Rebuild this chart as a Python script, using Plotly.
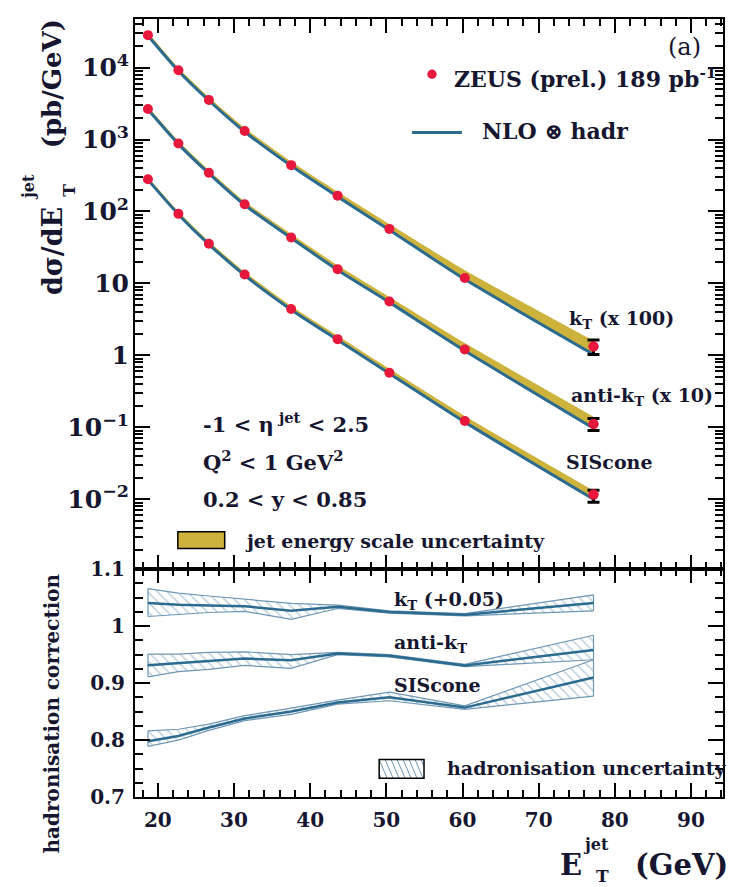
import plotly.graph_objects as go

# ---------------- data ----------------
ET = [18.7, 22.7, 26.7, 31.4, 37.5, 43.6, 50.4, 60.3, 77.2]

# cross sections (pb/GeV), kT scaled x100, anti-kT x10
KT_DATA = [28300, 9180, 3560, 1312, 441, 166, 57.3, 11.9, 1.33]
AKT_DATA = [2660, 881, 345, 126, 43.5, 15.8, 5.6, 1.21, 0.111]
SIS_DATA = [280, 92.7, 35.6, 13.3, 4.4, 1.68, 0.573, 0.122, 0.0116]

# errors on last point (up, down)
KT_ERR_LAST = (0.31, 0.30)
AKT_ERR_LAST = (0.022, 0.021)
SIS_ERR_LAST = (0.0017, 0.0025)

# NLO x hadr predictions
KT_NLO = [27800, 9000, 3490, 1285, 431, 161, 55.3, 11.4, 1.03]
AKT_NLO = [2610, 865, 338, 123, 42.7, 15.4, 5.45, 1.16, 0.097]
SIS_NLO = [275, 91.0, 35.0, 13.0, 4.32, 1.64, 0.56, 0.118, 0.0100]

# jet energy scale uncertainty (relative upper extent of band)
KT_JES = [0.11, 0.11, 0.12, 0.13, 0.15, 0.17, 0.21, 0.34, 0.55]
AKT_JES = [0.10, 0.10, 0.11, 0.12, 0.14, 0.16, 0.19, 0.28, 0.45]
SIS_JES = [0.10, 0.10, 0.10, 0.11, 0.12, 0.14, 0.16, 0.22, 0.32]

# hadronisation corrections
KT_HAD = [1.0405, 1.0376, 1.0365, 1.035, 1.027, 1.034, 1.025, 1.020, 1.0405]
KT_HAD_LO = [1.017, 1.020, 1.024, 1.026, 1.012, 1.031, 1.023, 1.018, 1.027]
KT_HAD_HI = [1.066, 1.058, 1.053, 1.047, 1.040, 1.037, 1.027, 1.022, 1.055]
AKT_HAD = [0.9315, 0.935, 0.939, 0.943, 0.940, 0.952, 0.948, 0.931, 0.958]
AKT_HAD_LO = [0.911, 0.920, 0.924, 0.931, 0.926, 0.950, 0.946, 0.929, 0.941]
AKT_HAD_HI = [0.951, 0.951, 0.954, 0.955, 0.950, 0.954, 0.950, 0.933, 0.984]
SIS_HAD = [0.798, 0.807, 0.822, 0.838, 0.850, 0.866, 0.875, 0.857, 0.910]
SIS_HAD_LO = [0.789, 0.800, 0.817, 0.834, 0.845, 0.863, 0.869, 0.854, 0.877]
SIS_HAD_HI = [0.816, 0.819, 0.828, 0.843, 0.856, 0.870, 0.884, 0.860, 0.941]

# ---------------- style ----------------
W, H = 732, 887
L, R, T, B = 135, 7, 8, 90
PW, PH = W - L - R, H - T - B
SPLIT = 566  # pixel y of boundary between panels
LOW_FRAC = (H - B - SPLIT) / PH

FONT = "DejaVu Serif"
TXT = "#161630"
RED = "#e8173c"
BLUE = "#2b6b8f"
YEL = "#cdb23c"
HATCH = "#6f97b4"


def P(x, y):
    return (x - L) / PW, (H - B - y) / PH


fig = go.Figure()

# ---- top panel ----
for nlo, jes, dat, err in [
    (KT_NLO, KT_JES, KT_DATA, KT_ERR_LAST),
    (AKT_NLO, AKT_JES, AKT_DATA, AKT_ERR_LAST),
    (SIS_NLO, SIS_JES, SIS_DATA, SIS_ERR_LAST),
]:
    up = [v * (1 + f) for v, f in zip(nlo, jes)]
    fig.add_trace(go.Scatter(x=ET, y=nlo, mode="lines", line=dict(width=0, shape="spline", smoothing=0.6),
                             showlegend=False, hoverinfo="skip", xaxis="x", yaxis="y"))
    fig.add_trace(go.Scatter(x=ET, y=up, mode="lines", line=dict(width=0, shape="spline", smoothing=0.6),
                             fill="tonexty", fillcolor=YEL, showlegend=False, hoverinfo="skip",
                             xaxis="x", yaxis="y"))
    fig.add_trace(go.Scatter(x=ET, y=nlo, mode="lines", line=dict(color=BLUE, width=3, shape="spline", smoothing=0.6),
                             showlegend=False, xaxis="x", yaxis="y"))
    fig.add_trace(go.Scatter(x=ET[-1:], y=dat[-1:], mode="markers",
                             marker=dict(color=RED, size=10),
                             error_y=dict(type="data", array=[err[0]], arrayminus=[err[1]],
                                          color="black", thickness=3, width=6),
                             showlegend=False, xaxis="x", yaxis="y"))
    fig.add_trace(go.Scatter(x=ET, y=dat, mode="markers", marker=dict(color=RED, size=10),
                             showlegend=False, xaxis="x", yaxis="y"))

# ---- bottom panel ----
for c, lo, hi in [(KT_HAD, KT_HAD_LO, KT_HAD_HI), (AKT_HAD, AKT_HAD_LO, AKT_HAD_HI),
                  (SIS_HAD, SIS_HAD_LO, SIS_HAD_HI)]:
    fig.add_trace(go.Scatter(x=ET, y=lo, mode="lines", line=dict(color=HATCH, width=1.2),
                             showlegend=False, hoverinfo="skip", xaxis="x2", yaxis="y2"))
    fig.add_trace(go.Scatter(x=ET, y=hi, mode="lines", line=dict(color=HATCH, width=1.2),
                             fill="tonexty", fillcolor="rgba(0,0,0,0)",
                             fillpattern=dict(shape="\\", fgcolor=HATCH, size=7, solidity=0.2),
                             showlegend=False, hoverinfo="skip", xaxis="x2", yaxis="y2"))
    # close band ends
    fig.add_trace(go.Scatter(x=[ET[0], ET[0], None, ET[-1], ET[-1]],
                             y=[lo[0], hi[0], None, lo[-1], hi[-1]], mode="lines",
                             line=dict(color=HATCH, width=1.2), showlegend=False, hoverinfo="skip",
                             xaxis="x2", yaxis="y2"))
    fig.add_trace(go.Scatter(x=ET, y=c, mode="lines", line=dict(color=BLUE, width=2.5),
                             showlegend=False, xaxis="x2", yaxis="y2"))

axis_common = dict(showline=True, linecolor="black", linewidth=2, mirror="ticks",
                   ticks="inside", tickcolor="black", tickwidth=1.5, showgrid=False, zeroline=False,
                   tickfont=dict(family=FONT, size=20, color=TXT, weight="bold"))

xcommon = dict(axis_common, range=[17, 94.2], dtick=10, tick0=0, ticklen=14,
               minor=dict(ticks="inside", dtick=2, ticklen=7, tickcolor="black", tickwidth=1.5))

fig.update_layout(
    width=W, height=H,
    margin=dict(l=L, r=R, t=T, b=B, pad=0),
    paper_bgcolor="white", plot_bgcolor="white",
    showlegend=False,
    xaxis=dict(xcommon, anchor="y", domain=[0, 1], showticklabels=False, matches="x2"),
    xaxis2=dict(xcommon, anchor="y2", domain=[0, 1], ticklabelstandoff=4),
    yaxis=dict(axis_common, type="log", range=[-2.973, 4.676], dtick=1, exponentformat="power",
               ticklen=15, domain=[LOW_FRAC, 1], anchor="x",
               minor=dict(ticks="inside", dtick="D1", ticklen=8, tickcolor="black", tickwidth=1.5)),
    yaxis2=dict(axis_common, range=[0.7, 1.1], dtick=0.1, ticklen=15, domain=[0, LOW_FRAC],
                anchor="x2", ticklabelstandoff=4,
                minor=dict(ticks="inside", dtick=0.025, ticklen=8, tickcolor="black", tickwidth=1.5)),
)

# ---- annotations ----
ann = []


def add_text(text, x, y, size=19, xanchor="left", yanchor="middle", angle=0, weight="bold"):
    px, py = P(x, y)
    ann.append(dict(text=text, x=px, y=py, xref="paper", yref="paper", showarrow=False,
                    xanchor=xanchor, yanchor=yanchor, textangle=angle,
                    font=dict(family=FONT, size=size, color=TXT, weight=weight)))


add_text("(a)", 668, 36, size=24, weight="normal")
add_text("ZEUS (prel.) 189 pb<sup>-1</sup>", 453, 68, size=22)
add_text("NLO \u2297 hadr", 481, 122, size=22)
add_text("k<sub>T</sub> (x 100)", 568, 313, size=19)
add_text("anti-k<sub>T</sub> (x 10)", 570, 391, size=19)
add_text("SIScone", 565, 457, size=19)
add_text("-1 &lt; \u03b7<sup> jet</sup> &lt; 2.5", 201, 418, size=21)
add_text("Q<sup>2</sup> &lt; 1 GeV<sup>2</sup>", 201, 456, size=21)
add_text("0.2 &lt; y &lt; 0.85", 201, 495, size=21)
add_text("jet energy scale uncertainty", 243, 537, size=19)
add_text("k<sub>T</sub> (+0.05)", 393, 598, size=19)
add_text("anti-k<sub>T</sub>", 393, 641, size=19)
add_text("SIScone", 393, 683, size=19)
add_text("hadronisation uncertainty", 446, 768, size=19)
add_text("hadronisation correction", 52, 712, size=20, xanchor="center", angle=-90)
# y title of top panel
add_text("d\u03c3/dE", 52, 243, size=27, xanchor="center", angle=-90)
add_text("jet", 28, 178, size=16, xanchor="center", angle=-90)
add_text("T", 68, 182, size=17, xanchor="center", angle=-90)
add_text("(pb/GeV)", 52, 74, size=26, xanchor="center", angle=-90)
# x title
add_text("E", 572, 866, size=29, xanchor="center")
add_text("jet", 598, 845, size=16, xanchor="center")
add_text("T", 604, 877, size=17, xanchor="center")
add_text("(GeV)", 683, 866, size=29, xanchor="center")

fig.update_layout(annotations=ann)

# ---- legend keys ----
shapes = []
cx, cy = P(433, 64)
rx, ry = 4.7 / PW, 4.7 / PH
shapes.append(dict(type="circle", xref="paper", yref="paper", x0=cx - rx, x1=cx + rx, y0=cy - ry, y1=cy + ry,
                   fillcolor=RED, line=dict(width=0)))
x0, y0 = P(413, 123)
x1, _ = P(463, 123)
shapes.append(dict(type="line", xref="paper", yref="paper", x0=x0, x1=x1, y0=y0, y1=y0,
                   line=dict(color=BLUE, width=3)))
a0, b0 = P(178, 545)
a1, b1 = P(225, 528)
shapes.append(dict(type="rect", xref="paper", yref="paper", x0=a0, x1=a1, y0=b0, y1=b1,
                   fillcolor=YEL, line=dict(color="black", width=1.5)))
# hatched box
hx0, hy0, hx1, hy1 = 380, 759, 425, 778
path = ""
for k in range(-2, 9):
    xs = hx0 + k * 6
    xa, ya = xs, hy0
    xb, yb = xs + 8, hy1
    if xa < hx0:
        ya = hy0 + (hx0 - xa) * (hy1 - hy0) / 8
        xa = hx0
    if xb > hx1:
        yb = hy0 + (hx1 - xs) * (hy1 - hy0) / 8
        xb = hx1
    if xa >= hx1 or ya >= hy1:
        continue
    pa = P(xa, ya)
    pb = P(xb, yb)
    path += f"M{pa[0]},{pa[1]} L{pb[0]},{pb[1]} "
shapes.append(dict(type="path", xref="paper", yref="paper", path=path, line=dict(color=HATCH, width=1)))
c0, d0 = P(hx0, hy1)
c1, d1 = P(hx1, hy0)
shapes.append(dict(type="rect", xref="paper", yref="paper", x0=c0, x1=c1, y0=d0, y1=d1,
                   line=dict(color="black", width=1.5)))
fig.update_layout(shapes=shapes)

fig.write_html("out.html")
